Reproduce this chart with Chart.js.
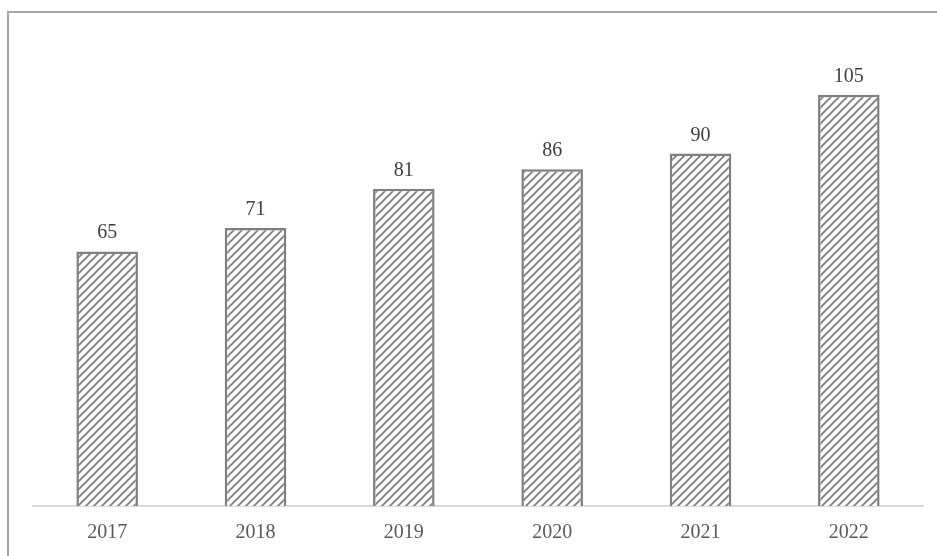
<!DOCTYPE html>
<html><head><meta charset="utf-8">
<script src="https://cdn.jsdelivr.net/npm/chart.js@4/dist/chart.umd.min.js"></script>
<style>html,body{margin:0;padding:0;background:#fff}#wrap{width:937px;height:556px;position:relative}</style>
</head><body><div id="wrap"><canvas id="c" width="937" height="556"></canvas></div>
<script>
const categories = ['2017','2018','2019','2020','2021','2022'];
const values = [65, 71, 81, 86, 90, 105];

function makePattern(){
  const s = 8;
  const p = document.createElement('canvas');
  p.width = s; p.height = s;
  const g = p.getContext('2d');
  g.fillStyle = '#ffffff'; g.fillRect(0,0,s,s);
  g.strokeStyle = '#7f7f7f'; g.lineWidth = 1.9;
  g.beginPath();
  g.moveTo(-2, s+2); g.lineTo(s+2, -2);
  g.moveTo(-2, 2); g.lineTo(2, -2);
  g.moveTo(s-2, s+2); g.lineTo(s+2, s-2);
  g.stroke();
  return g.createPattern(p, 'repeat');
}
const ctx = document.getElementById('c').getContext('2d');

const frame = {
  id: 'frame',
  beforeDraw(chart){
    const c = chart.ctx;
    c.save();
    c.fillStyle = '#fff'; c.fillRect(0,0,chart.width,chart.height);
    c.strokeStyle = '#a6a6a6'; c.lineWidth = 2;
    c.beginPath();
    c.moveTo(8, 556); c.lineTo(8, 12); c.lineTo(937, 12);
    c.stroke();
    c.restore();
  }
};
const labels = {
  id: 'labels',
  afterDatasetsDraw(chart){
    const c = chart.ctx;
    const meta = chart.getDatasetMeta(0);
    c.save();
    c.font = '20px "Liberation Serif", "Times New Roman", serif';
    c.fillStyle = '#404040';
    c.textAlign = 'center'; c.textBaseline = 'alphabetic';
    meta.data.forEach((bar, i) => {
      c.fillText(String(values[i]), bar.x, bar.y - 13);
    });
    c.restore();
  }
};

new Chart(ctx, {
  type: 'bar',
  data: { labels: categories, datasets: [{
    data: values,
    backgroundColor: makePattern(),
    borderColor: '#7f7f7f',
    borderWidth: 2.5,
    categoryPercentage: 1,
    barPercentage: 0.415
  }]},
  options: {
    responsive: false, animation: false,
    layout: { padding: { left: 33, right: 14, top: 36, bottom: -4 } },
    plugins: { legend: { display: false }, tooltip: { enabled: false } },
    scales: {
      x: {
        grid: { display: false, drawTicks: false },
        border: { display: true, color: '#d9d9d9', width: 2 },
        ticks: { color: '#595959', padding: 15, font: { family: '"Liberation Serif", "Times New Roman", serif', size: 20 } }
      },
      y: { display: false, min: 0, max: 120 }
    }
  },
  plugins: [frame, labels]
});
</script></body></html>
